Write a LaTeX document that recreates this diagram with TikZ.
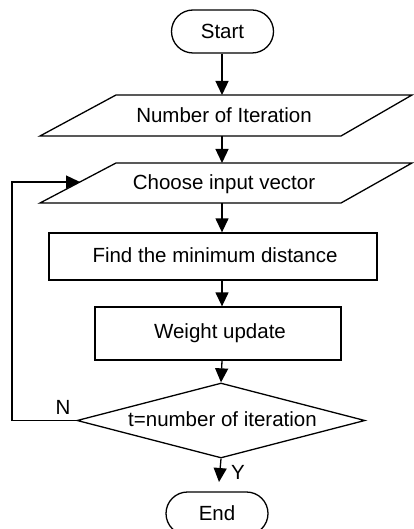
\documentclass[tikz,border=0pt]{standalone}
\usepackage{fontspec}
\setmainfont{Liberation Sans}
\usetikzlibrary{shapes.geometric,shapes.misc,arrows.meta}
\begin{document}
\begin{tikzpicture}[x=1pt,y=-1pt,line width=1.3pt,
  font=\fontsize{20.5}{24}\selectfont,
  arr/.style={-{Triangle[length=14pt,width=13pt]}},
  term/.style={rounded rectangle,draw,minimum width=102pt,minimum height=43pt,inner sep=0pt},
  box/.style={rectangle,draw,inner sep=0pt},
  lbl/.style={inner sep=0pt},
  dec/.style={diamond,draw,inner sep=0pt,minimum width=288pt,minimum height=75pt}]
\useasboundingbox (0,0) rectangle (414,529);

% terminals
\node[term] (start) at (222.5,31.5) {Start};
\node[term] (end) at (217,513.5) {End};

% parallelograms
\draw (116,95) -- (412,95) -- (341,136) -- (40,136) -- cycle;
\node[lbl] (num) at (224,115.5) {Number of Iteration};
\draw (116,163) -- (412,163) -- (341,203) -- (40,203) -- cycle;
\node[lbl] (choose) at (224,184) {Choose input vector};

\coordinate (n1t) at (222,95);
\coordinate (n1b) at (222,136);
\coordinate (n2t) at (222,163);
\coordinate (n2b) at (222,203);
\coordinate (n2l) at (80,182);
\coordinate (lp) at (12,182);

% process boxes
\node[box,minimum width=328pt,minimum height=47pt] (find) at (213,256.5) {};
\node[lbl] (findt) at (215,255) {Find the minimum distance};
\node[box,minimum width=246pt,minimum height=53pt] (weight) at (218,333.5) {};
\node[lbl] (weightt) at (220,333) {Weight update};

% decision
\node[dec] (decn) at (221,420.5) {};
\node[lbl] (dect) at (222.5,419) {t=number of iteration};

\coordinate (ye) at (219,482);

% connectors
\draw[arr] (start.south -| n1t) -- (n1t);
\draw[arr] (n1b) -- (n2t);
\draw[arr] (n2b) -- (n2b |- find.north);
\draw[arr] (find.south -| n2b) -- (n2b |- weight.north);
\draw[arr] (weight.south -| n2b) -- (decn.north);
\draw[arr] (decn.south) -- (ye);
\draw[arr] (decn.west) -| (lp) -- (n2l);

\node[lbl] (nl) at (63,407) {N};
\node[lbl] (yl) at (238,472) {Y};
\end{tikzpicture}
\end{document}
